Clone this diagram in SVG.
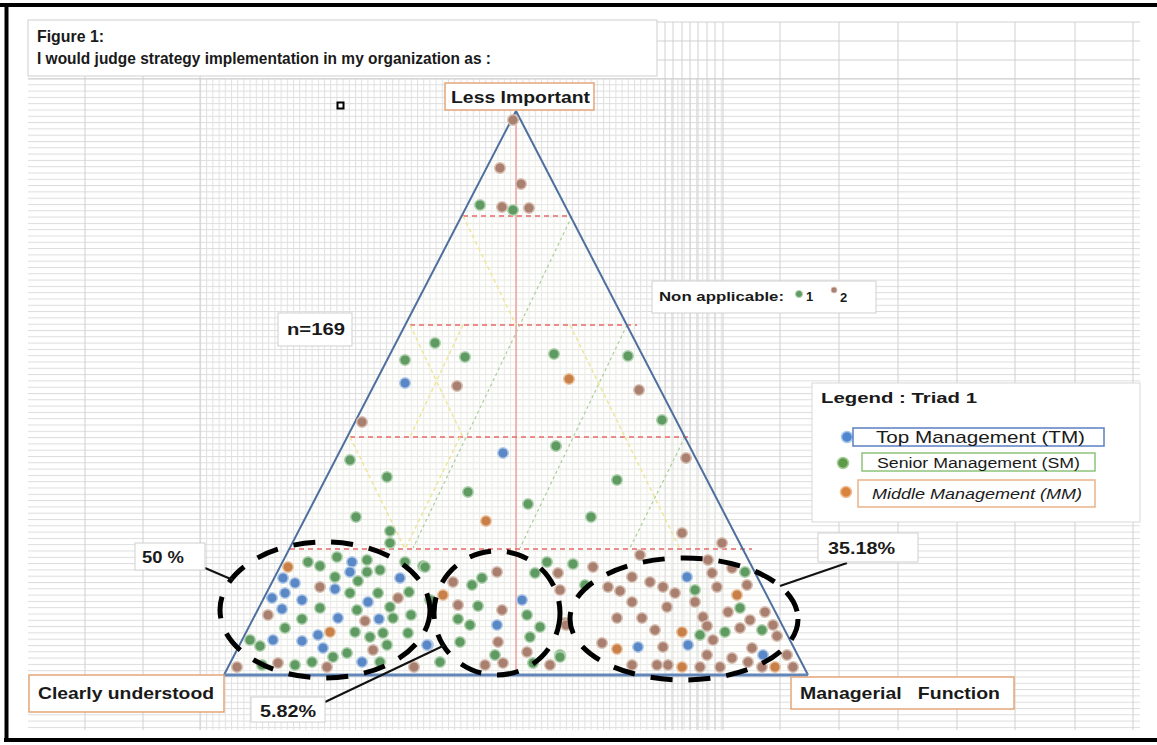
<svg xmlns="http://www.w3.org/2000/svg" width="1157" height="745" viewBox="0 0 1157 745">
<defs>
<pattern id="hl" patternUnits="userSpaceOnUse" x="0" y="78" width="20" height="6.3"><line x1="0" y1="0.5" x2="20" y2="0.5" stroke="#dcdcdc" stroke-width="1"/></pattern>
<pattern id="vl" patternUnits="userSpaceOnUse" x="200" y="0" width="6.2" height="20"><line x1="0.5" y1="0" x2="0.5" y2="20" stroke="#e0e0e0" stroke-width="1"/></pattern>
<style>
.t{font-family:"Liberation Sans",Arial,sans-serif;fill:#1a1a1a}
.bx{fill:#fff;stroke:#cfcfcf;stroke-width:1}
.ob{fill:#fff;stroke:#e3a679;stroke-width:1.5}
.cv{stroke:#d0d0d0;stroke-width:1}
.b{fill:#5a88c6;stroke:#b4cbe8;stroke-width:1.5}
.g{fill:#5f9a63;stroke:#b0d2ae;stroke-width:1.5}
.r{fill:#a98070;stroke:#d8c0b4;stroke-width:1.5}
.o{fill:#c98048;stroke:#ebc4a2;stroke-width:1.5}
.rd{stroke:#e86a6a;stroke-width:1.5;stroke-dasharray:5 4;fill:none}
.gd{stroke:#a9cf9a;stroke-width:1.2;stroke-dasharray:3 3;fill:none}
.yd{stroke:#eee79a;stroke-width:1.5;stroke-dasharray:4 3;fill:none}
.el{fill:none;stroke:#000;stroke-width:5;stroke-dasharray:22 16}
.ld{stroke:#111;stroke-width:2}
</style>
</defs>
<rect width="1157" height="745" fill="#fff"/>
<!-- spreadsheet grid -->
<g id="grid">
<rect x="28" y="78" width="1112" height="652" fill="url(#hl)"/>
<rect x="200" y="78" width="523" height="652" fill="url(#vl)"/>
<g class="cv">
<line x1="657" y1="22" x2="1140" y2="22"/><line x1="657" y1="41" x2="1140" y2="41"/><line x1="657" y1="60" x2="1140" y2="60"/><line x1="28" y1="79" x2="1140" y2="79"/>
<line x1="85" y1="76" x2="85" y2="730"/><line x1="143" y1="76" x2="143" y2="730"/><line x1="200" y1="76" x2="200" y2="730"/>
<line x1="723" y1="22" x2="723" y2="730"/><line x1="780" y1="22" x2="780" y2="730"/><line x1="839" y1="22" x2="839" y2="730"/><line x1="898" y1="22" x2="898" y2="730"/><line x1="957" y1="22" x2="957" y2="730"/><line x1="1015" y1="22" x2="1015" y2="730"/><line x1="1075" y1="22" x2="1075" y2="730"/><line x1="1133" y1="22" x2="1133" y2="730"/>
<line x1="665" y1="22" x2="665" y2="730"/><line x1="673" y1="22" x2="673" y2="730"/><line x1="682" y1="22" x2="682" y2="730"/><line x1="690" y1="22" x2="690" y2="730"/><line x1="698" y1="22" x2="698" y2="730"/><line x1="707" y1="22" x2="707" y2="730"/><line x1="715" y1="22" x2="715" y2="730"/>
</g>
</g>
<!-- frame -->
<g id="frame" stroke="#000" stroke-width="4">
<line x1="0" y1="5" x2="1157" y2="5"/>
<line x1="6.5" y1="3" x2="6.5" y2="742"/>
<line x1="4" y1="740" x2="1157" y2="740"/>
</g>
<!-- triangle -->
<g id="triad">
<polygon points="516,111 224,675 808,675" fill="#fffef8" fill-opacity="0.3"/>
<line x1="516" y1="111" x2="516" y2="675" stroke="#ef8a8a" stroke-width="1.2"/>
<line class="rd" x1="463" y1="216" x2="571" y2="216"/>
<line class="rd" x1="410" y1="325" x2="637" y2="325"/>
<line class="rd" x1="350" y1="437" x2="692" y2="437"/>
<line class="rd" x1="290" y1="549" x2="752" y2="549"/>
<line class="gd" x1="572" y1="216" x2="413" y2="548"/>
<line class="gd" x1="627" y1="325" x2="520" y2="548"/>
<line class="gd" x1="685" y1="437" x2="630" y2="548"/>
<line class="yd" x1="463" y1="216" x2="516" y2="325"/>
<line class="yd" x1="410" y1="325" x2="463" y2="437"/>
<line class="yd" x1="463" y1="325" x2="410" y2="437"/>
<line class="yd" x1="570" y1="325" x2="625" y2="437"/>
<line class="yd" x1="350" y1="437" x2="405" y2="549"/>
<line class="yd" x1="460" y1="437" x2="405" y2="549"/>
<line class="yd" x1="625" y1="437" x2="680" y2="549"/>
<line x1="516" y1="111" x2="224" y2="675" stroke="#4e6f9e" stroke-width="2"/>
<line x1="516" y1="111" x2="808" y2="675" stroke="#4e6f9e" stroke-width="2"/>
<line x1="224" y1="675" x2="808" y2="675" stroke="#6286b8" stroke-width="3"/>
</g>
<!-- dots -->
<g id="dots">
<circle class="r" cx="513" cy="120" r="5.3"/><circle class="r" cx="500" cy="168" r="5.3"/><circle class="r" cx="521" cy="184" r="5.3"/><circle class="g" cx="480" cy="205" r="5.3"/><circle class="r" cx="502" cy="207" r="5.3"/><circle class="g" cx="513" cy="210" r="5.3"/><circle class="r" cx="529" cy="208" r="5.3"/>
<circle class="g" cx="435" cy="343" r="5.3"/><circle class="g" cx="405" cy="360" r="5.3"/><circle class="g" cx="465" cy="357" r="5.3"/><circle class="b" cx="405" cy="383" r="5.3"/><circle class="r" cx="457" cy="386" r="5.3"/><circle class="g" cx="554" cy="354" r="5.3"/><circle class="o" cx="569" cy="379" r="5.3"/><circle class="g" cx="628" cy="356" r="5.3"/><circle class="r" cx="639" cy="390" r="5.3"/><circle class="r" cx="362" cy="422" r="5.3"/><circle class="g" cx="350" cy="460" r="5.3"/><circle class="b" cx="503" cy="453" r="5.3"/><circle class="g" cx="556" cy="446" r="5.3"/><circle class="g" cx="387" cy="477" r="5.3"/><circle class="g" cx="468" cy="492" r="5.3"/><circle class="g" cx="617" cy="480" r="5.3"/><circle class="g" cx="528" cy="504" r="5.3"/><circle class="o" cx="486" cy="521" r="5.3"/><circle class="g" cx="591" cy="517" r="5.3"/><circle class="g" cx="356" cy="517" r="5.3"/><circle class="g" cx="390" cy="531" r="5.3"/><circle class="g" cx="390" cy="543" r="5.3"/><circle class="r" cx="686" cy="458" r="5.3"/><circle class="g" cx="662" cy="420" r="5.3"/>
<!-- left cluster -->
<circle class="o" cx="288" cy="567" r="5.3"/><circle class="g" cx="308" cy="562" r="5.3"/><circle class="g" cx="320" cy="566" r="5.3"/><circle class="g" cx="337" cy="557" r="5.3"/><circle class="b" cx="352" cy="562" r="5.3"/><circle class="g" cx="367" cy="560" r="5.3"/><circle class="g" cx="405" cy="562" r="5.3"/><circle class="g" cx="423" cy="566" r="5.3"/>
<circle class="b" cx="283" cy="578" r="5.3"/><circle class="b" cx="295" cy="583" r="5.3"/><circle class="r" cx="320" cy="587" r="5.3"/><circle class="g" cx="335" cy="577" r="5.3"/><circle class="b" cx="335" cy="589" r="5.3"/><circle class="b" cx="350" cy="572" r="5.3"/><circle class="g" cx="358" cy="581" r="5.3"/><circle class="g" cx="367" cy="572" r="5.3"/><circle class="g" cx="380" cy="570" r="5.3"/><circle class="b" cx="400" cy="578" r="5.3"/>
<circle class="b" cx="272" cy="598" r="5.3"/><circle class="b" cx="285" cy="593" r="5.3"/><circle class="b" cx="302" cy="600" r="5.3"/><circle class="g" cx="350" cy="593" r="5.3"/><circle class="b" cx="368" cy="602" r="5.3"/><circle class="g" cx="378" cy="593" r="5.3"/><circle class="r" cx="398" cy="598" r="5.3"/><circle class="g" cx="409" cy="592" r="5.3"/>
<circle class="b" cx="282" cy="609" r="5.3"/><circle class="r" cx="268" cy="615" r="5.3"/><circle class="g" cx="320" cy="608" r="5.3"/><circle class="g" cx="357" cy="610" r="5.3"/><circle class="g" cx="390" cy="607" r="5.3"/><circle class="g" cx="302" cy="619" r="5.3"/><circle class="b" cx="338" cy="618" r="5.3"/><circle class="r" cx="365" cy="621" r="5.3"/><circle class="b" cx="379" cy="619" r="5.3"/><circle class="g" cx="393" cy="618" r="5.3"/><circle class="g" cx="411" cy="615" r="5.3"/>
<circle class="g" cx="285" cy="628" r="5.3"/><circle class="g" cx="355" cy="632" r="5.3"/><circle class="g" cx="370" cy="637" r="5.3"/><circle class="g" cx="383" cy="633" r="5.3"/><circle class="g" cx="408" cy="633" r="5.3"/><circle class="o" cx="330" cy="632" r="5.3"/><circle class="b" cx="273" cy="640" r="5.3"/><circle class="b" cx="302" cy="641" r="5.3"/><circle class="b" cx="318" cy="635" r="5.3"/><circle class="g" cx="250" cy="640" r="5.3"/><circle class="g" cx="260" cy="646" r="5.3"/><circle class="b" cx="323" cy="648" r="5.3"/><circle class="g" cx="347" cy="653" r="5.3"/><circle class="r" cx="373" cy="650" r="5.3"/><circle class="g" cx="387" cy="645" r="5.3"/><circle class="b" cx="428" cy="645" r="5.3"/>
<circle class="r" cx="237" cy="667" r="5.3"/><circle class="g" cx="262" cy="665" r="5.3"/><circle class="r" cx="278" cy="663" r="5.3"/><circle class="g" cx="295" cy="665" r="5.3"/><circle class="g" cx="312" cy="662" r="5.3"/><circle class="r" cx="327" cy="667" r="5.3"/><circle class="g" cx="333" cy="657" r="5.3"/><circle class="b" cx="362" cy="662" r="5.3"/><circle class="g" cx="380" cy="662" r="5.3"/><circle class="r" cx="414" cy="667" r="5.3"/>
<!-- middle cluster -->
<circle class="g" cx="425" cy="567" r="5.3"/><circle class="r" cx="497" cy="572" r="5.3"/><circle class="g" cx="482" cy="578" r="5.3"/><circle class="g" cx="472" cy="585" r="5.3"/><circle class="r" cx="453" cy="582" r="5.3"/><circle class="o" cx="443" cy="595" r="5.3"/><circle class="g" cx="430" cy="600" r="5.3"/><circle class="r" cx="458" cy="605" r="5.3"/><circle class="g" cx="478" cy="606" r="5.3"/><circle class="r" cx="502" cy="610" r="5.3"/><circle class="g" cx="458" cy="619" r="5.3"/><circle class="g" cx="470" cy="625" r="5.3"/><circle class="b" cx="497" cy="625" r="5.3"/><circle class="b" cx="522" cy="600" r="5.3"/><circle class="g" cx="527" cy="615" r="5.3"/><circle class="g" cx="540" cy="627" r="5.3"/><circle class="g" cx="530" cy="637" r="5.3"/><circle class="g" cx="460" cy="642" r="5.3"/><circle class="r" cx="498" cy="642" r="5.3"/><circle class="r" cx="527" cy="652" r="5.3"/><circle class="g" cx="495" cy="655" r="5.3"/><circle class="g" cx="440" cy="662" r="5.3"/><circle class="b" cx="427" cy="645" r="5.3"/><circle class="r" cx="485" cy="665" r="5.3"/><circle class="r" cx="503" cy="663" r="5.3"/><circle class="g" cx="533" cy="663" r="5.3"/><circle class="r" cx="550" cy="665" r="5.3"/><circle class="g" cx="560" cy="655" r="5.3"/><circle class="g" cx="547" cy="562" r="5.3"/><circle class="r" cx="558" cy="573" r="5.3"/><circle class="g" cx="535" cy="573" r="5.3"/><circle class="g" cx="573" cy="564" r="5.3"/><circle class="r" cx="565" cy="623" r="5.3"/><circle class="r" cx="560" cy="590" r="5.3"/>
<!-- right cluster -->
<circle class="r" cx="682" cy="533" r="5.3"/><circle class="r" cx="722" cy="543" r="5.3"/><circle class="r" cx="593" cy="567" r="5.3"/><circle class="r" cx="640" cy="555" r="5.3"/><circle class="r" cx="708" cy="560" r="5.3"/><circle class="r" cx="732" cy="568" r="5.3"/><circle class="g" cx="745" cy="572" r="5.3"/>
<circle class="g" cx="585" cy="585" r="5.3"/><circle class="r" cx="608" cy="587" r="5.3"/><circle class="r" cx="620" cy="591" r="5.3"/><circle class="r" cx="632" cy="577" r="5.3"/><circle class="r" cx="650" cy="582" r="5.3"/><circle class="r" cx="663" cy="587" r="5.3"/><circle class="r" cx="675" cy="593" r="5.3"/><circle class="b" cx="687" cy="577" r="5.3"/><circle class="g" cx="695" cy="590" r="5.3"/><circle class="r" cx="712" cy="573" r="5.3"/><circle class="r" cx="717" cy="587" r="5.3"/><circle class="o" cx="737" cy="595" r="5.3"/><circle class="r" cx="747" cy="585" r="5.3"/>
<circle class="r" cx="632" cy="602" r="5.3"/><circle class="r" cx="667" cy="607" r="5.3"/><circle class="r" cx="695" cy="602" r="5.3"/><circle class="r" cx="728" cy="612" r="5.3"/><circle class="g" cx="740" cy="608" r="5.3"/><circle class="r" cx="765" cy="612" r="5.3"/><circle class="r" cx="617" cy="618" r="5.3"/><circle class="r" cx="642" cy="618" r="5.3"/><circle class="r" cx="703" cy="617" r="5.3"/><circle class="r" cx="707" cy="626" r="5.3"/><circle class="r" cx="750" cy="620" r="5.3"/><circle class="r" cx="773" cy="625" r="5.3"/><circle class="r" cx="566" cy="625" r="5.3"/>
<circle class="r" cx="655" cy="630" r="5.3"/><circle class="o" cx="682" cy="632" r="5.3"/><circle class="g" cx="700" cy="635" r="5.3"/><circle class="r" cx="713" cy="640" r="5.3"/><circle class="g" cx="725" cy="632" r="5.3"/><circle class="r" cx="740" cy="628" r="5.3"/><circle class="g" cx="762" cy="630" r="5.3"/><circle class="r" cx="777" cy="636" r="5.3"/><circle class="r" cx="602" cy="643" r="5.3"/><circle class="b" cx="638" cy="647" r="5.3"/><circle class="r" cx="663" cy="647" r="5.3"/><circle class="b" cx="688" cy="645" r="5.3"/><circle class="o" cx="617" cy="649" r="5.3"/><circle class="r" cx="707" cy="655" r="5.3"/><circle class="r" cx="752" cy="648" r="5.3"/><circle class="b" cx="763" cy="655" r="5.3"/><circle class="r" cx="787" cy="655" r="5.3"/><circle class="r" cx="732" cy="658" r="5.3"/>
<circle class="r" cx="632" cy="665" r="5.3"/><circle class="r" cx="657" cy="665" r="5.3"/><circle class="r" cx="668" cy="665" r="5.3"/><circle class="o" cx="682" cy="667" r="5.3"/><circle class="r" cx="700" cy="667" r="5.3"/><circle class="r" cx="720" cy="667" r="5.3"/><circle class="r" cx="748" cy="662" r="5.3"/><circle class="r" cx="762" cy="667" r="5.3"/><circle class="o" cx="775" cy="667" r="5.3"/><circle class="r" cx="793" cy="667" r="5.3"/><circle class="g" cx="560" cy="657" r="5.3"/>
</g>
<!-- dashed groupings -->
<g id="groupings">
<ellipse class="el" cx="325" cy="610" rx="105" ry="68"/>
<ellipse class="el" cx="497" cy="613" rx="63" ry="62"/>
<ellipse class="el" cx="684" cy="619" rx="114" ry="61"/>
</g>
<!-- connectors -->
<g id="connectors">
<line class="ld" x1="205" y1="568" x2="233" y2="580"/>
<line class="ld" x1="847" y1="563" x2="780" y2="586"/>
<line class="ld" x1="325" y1="702" x2="445" y2="645"/>
</g>
<!-- labels -->
<g id="title">
<rect class="bx" x="28" y="20" width="629" height="56"/>
<text class="t" x="37" y="42" font-size="17" font-weight="bold" textLength="67" lengthAdjust="spacingAndGlyphs">Figure 1:</text>
<text class="t" x="37" y="64" font-size="17" font-weight="bold" textLength="454" lengthAdjust="spacingAndGlyphs">I would judge strategy implementation in my organization as :</text>
</g>
<g id="marker-square"><rect x="337.5" y="102.5" width="6" height="6" fill="#fff" stroke="#000" stroke-width="2"/></g>
<g id="less-important">
<rect class="ob" x="445" y="83" width="149" height="27"/>
<text class="t" x="451" y="103" font-size="17" font-weight="bold" textLength="139" lengthAdjust="spacingAndGlyphs">Less Important</text>
</g>
<g id="non-applicable">
<rect class="bx" x="652" y="281" width="224" height="32"/>
<text class="t" x="659" y="301" font-size="13" font-weight="bold" textLength="125" lengthAdjust="spacingAndGlyphs">Non applicable:</text>
<circle cx="799" cy="294" r="3.5" fill="#5f9a63" stroke="#b0d2ae"/>
<text class="t" x="806" y="301" font-size="13" font-weight="bold">1</text>
<circle cx="834" cy="290" r="3" fill="#a98070" stroke="#d8c0b4"/>
<text class="t" x="840" y="302" font-size="13" font-weight="bold">2</text>
</g>
<g id="n169">
<rect class="bx" x="278" y="313" width="74" height="33"/>
<text class="t" x="287" y="335" font-size="16" font-weight="bold" textLength="58" lengthAdjust="spacingAndGlyphs">n=169</text>
</g>
<g id="legend">
<rect x="812" y="383" width="328" height="139" fill="#fff" stroke="#d8d8d8" stroke-width="1"/>
<text class="t" x="821" y="403" font-size="15" font-weight="bold" textLength="156" lengthAdjust="spacingAndGlyphs">Legend  : Triad 1</text>
<circle cx="847" cy="437" r="5.5" fill="#4f86cf" stroke="#a8c6ea" stroke-width="1.5"/>
<rect x="853" y="428" width="251" height="18" fill="#fff" stroke="#5b7fc0" stroke-width="1.5"/>
<text class="t" x="876" y="443" font-size="17" textLength="209" lengthAdjust="spacingAndGlyphs">Top Management  (TM)</text>
<circle cx="843" cy="463" r="5.5" fill="#5f9a4a" stroke="#a6cf98" stroke-width="1.5"/>
<rect x="862" y="453" width="233" height="18" fill="#fff" stroke="#8cc47a" stroke-width="1.5"/>
<text class="t" x="877" y="468" font-size="14" textLength="203" lengthAdjust="spacingAndGlyphs">Senior Management  (SM)</text>
<circle cx="846" cy="492" r="5.5" fill="#d9833f" stroke="#efbf97" stroke-width="1.5"/>
<rect x="858" y="480" width="237" height="27" fill="#fff" stroke="#e9b28a" stroke-width="1.5"/>
<text class="t" x="872" y="499" font-size="14" font-style="italic" textLength="210" lengthAdjust="spacingAndGlyphs">Middle Management  (MM)</text>
</g>
<g id="pct-50">
<rect class="bx" x="135" y="543" width="70" height="27"/>
<text class="t" x="142" y="563" font-size="16" font-weight="bold" textLength="42" lengthAdjust="spacingAndGlyphs">50 %</text>
</g>
<g id="pct-3518">
<rect class="bx" x="818" y="533" width="100" height="29"/>
<text class="t" x="828" y="554" font-size="16" font-weight="bold" textLength="67" lengthAdjust="spacingAndGlyphs">35.18%</text>
</g>
<g id="pct-582">
<rect class="bx" x="251" y="697" width="74" height="25"/>
<text class="t" x="260" y="717" font-size="16" font-weight="bold" textLength="56" lengthAdjust="spacingAndGlyphs">5.82%</text>
</g>
<g id="clearly-understood">
<rect class="ob" x="29" y="675" width="195" height="37"/>
<text class="t" x="38" y="699" font-size="17" font-weight="bold" textLength="176" lengthAdjust="spacingAndGlyphs">Clearly understood</text>
</g>
<g id="managerial-function">
<rect class="ob" x="791" y="677" width="223" height="32"/>
<text class="t" x="800" y="699" font-size="17" font-weight="bold" textLength="200" lengthAdjust="spacingAndGlyphs" xml:space="preserve">Managerial   Function</text>
</g>
</svg>
